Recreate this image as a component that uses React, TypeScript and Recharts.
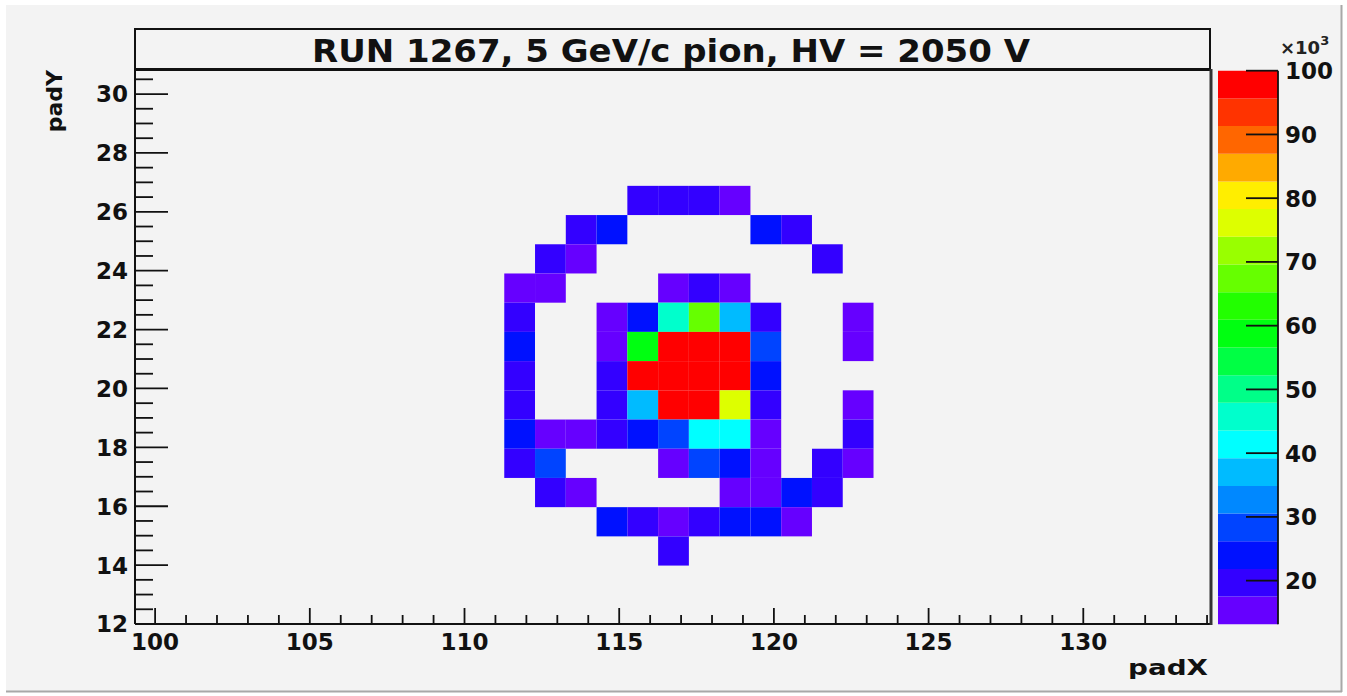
import { ScatterChart, Scatter, XAxis, YAxis, ReferenceArea, ComposedChart } from 'recharts';

// histogram binning (frame = histogram range)
const X_MIN = 99.35;
const X_MAX = 134.16;
const NBX = 35;
const Y_MIN = 12;
const Y_MAX = 30.85;
const NBY = 19;
const Z_MIN = 13.15;
const Z_MAX = 100;

// x bins that hold data (padX 111 .. 122), y bins from top row down
const colBins = [12, 13, 14, 15, 16, 17, 18, 19, 20, 21, 22, 23];
const rowBins = [14, 13, 12, 11, 10, 9, 8, 7, 6, 5, 4, 3, 2];

// counts in units of 10^3, 0 = empty bin
const r14 = [0, 0, 0, 0, 19.5, 19.8, 19.6, 15.6, 0, 0, 0, 0];
const r13 = [0, 0, 19.4, 24.1, 0, 0, 0, 0, 23.8, 19.9, 0, 0];
const r12 = [0, 19.7, 15.4, 0, 0, 0, 0, 0, 0, 0, 19.6, 0];
const r11 = [15.8, 15.5, 0, 0, 0, 15.9, 19.3, 15.7, 0, 0, 0, 0];
const r10 = [19.8, 0, 0, 15.6, 24.2, 45.6, 67.3, 37.2, 19.5, 0, 0, 15.4];
const r9 = [23.9, 0, 0, 15.7, 58.6, 100, 100, 100, 28.1, 0, 0, 15.5];
const r8 = [19.6, 0, 0, 19.4, 100, 100, 100, 100, 24.3, 0, 0, 0];
const r7 = [19.8, 0, 0, 19.5, 36.8, 100, 100, 76.2, 19.7, 0, 0, 15.6];
const r6 = [24.0, 15.8, 15.6, 19.5, 24.2, 28.4, 41.3, 41.0, 15.7, 0, 0, 19.4];
const r5 = [19.6, 28.2, 0, 0, 0, 15.7, 28.5, 24.1, 15.9, 0, 19.3, 15.5];
const r4 = [0, 19.5, 15.6, 0, 0, 0, 0, 15.8, 15.4, 24.0, 19.7, 0];
const r3 = [0, 0, 0, 24.2, 19.6, 15.7, 19.9, 24.4, 23.9, 15.6, 0, 0];
const r2 = [0, 0, 0, 0, 0, 19.5, 0, 0, 0, 0, 0, 0];
const rows = [r14, r13, r12, r11, r10, r9, r8, r7, r6, r5, r4, r3, r2];

// ROOT-like palette, 20 contours, low -> high
const palette = [
  '#6600ff', '#3300ff', '#0011ff', '#0044ff', '#0088ff', '#00bbff', '#00ffff', '#00ffcc', '#00ff88', '#00ff44',
  '#00ff11', '#22ff00', '#66ff00', '#99ff00', '#ddff00', '#ffee00', '#ffaa00', '#ff6600', '#ff3300', '#ff0000',
];

const xTicks = Array.from({ length: 35 }, (_, i) => 100 + i);
const yTicks = Array.from({ length: 38 }, (_, i) => 12 + i * 0.5);
const zTicks = [20, 30, 40, 50, 60, 70, 80, 90, 100];

const bwX = (X_MAX - X_MIN) / NBX;
const bwY = (Y_MAX - Y_MIN) / NBY;
const bwZ = (Z_MAX - Z_MIN) / palette.length;

const colorOf = (v: number) => {
  const k = Math.floor((v - Z_MIN) / bwZ);
  return palette[Math.max(0, Math.min(palette.length - 1, k))];
};

const cells = rows.flatMap((vals, r) =>
  vals
    .map((v, c) => ({
      x1: X_MIN + colBins[c] * bwX,
      x2: X_MIN + (colBins[c] + 1) * bwX,
      y1: Y_MIN + rowBins[r] * bwY,
      y2: Y_MIN + (rowBins[r] + 1) * bwY,
      x: X_MIN + (colBins[c] + 0.5) * bwX,
      y: Y_MIN + (rowBins[r] + 0.5) * bwY,
      v,
    }))
    .filter((d) => d.v > 0)
);

const bands = palette.map((color, i) => ({ lo: Z_MIN + i * bwZ, hi: Z_MIN + (i + 1) * bwZ, color }));

const lbl = { fontFamily: 'DejaVu Sans', fontWeight: 'bold' as const, fontSize: 23, fill: '#111' };

const XTick = (p: any) => {
  const v = p.payload.value;
  const major = v % 5 === 0;
  return (
    <g>
      <line x1={p.x} x2={p.x} y1={p.y} y2={p.y - (major ? 16 : 9)} stroke="#111" strokeWidth={1.8} />
      {major && (
        <text x={p.x} y={p.y + 26} textAnchor="middle" style={lbl}>
          {v}
        </text>
      )}
    </g>
  );
};

const YTick = (p: any) => {
  const v = p.payload.value;
  const major = v % 2 === 0;
  return (
    <g>
      <line x1={p.x} x2={p.x + (major ? 33 : 18)} y1={p.y} y2={p.y} stroke="#111" strokeWidth={1.8} />
      {major && (
        <text x={p.x - 7} y={p.y + 8.4} textAnchor="end" style={lbl}>
          {v}
        </text>
      )}
    </g>
  );
};

const ZTick = (p: any) => {
  const v = p.payload.value;
  return (
    <g>
      <line x1={p.x - 32} x2={p.x} y1={p.y} y2={p.y} stroke="#111" strokeWidth={1.8} />
      <text x={p.x + 7} y={p.y + 8.4} textAnchor="start" style={lbl}>
        {v}
      </text>
    </g>
  );
};

export default function App() {
  return (
    <div style={{ position: 'absolute', left: 0, top: 0, width: 1347, height: 696, background: '#fff' }}>
      <svg width={1347} height={696} style={{ position: 'absolute', left: 0, top: 0 }}>
        <rect x={6} y={5} width={1335} height={686} fill="#f3f3f3" />
        <line x1={1341.5} x2={1341.5} y1={5} y2={692} stroke="#a8a8a8" strokeWidth={2} />
        <line x1={6} x2={1342} y1={691.5} y2={691.5} stroke="#a8a8a8" strokeWidth={2} />
      </svg>

      <div style={{ position: 'absolute', left: 0, top: 0 }}>
        <ScatterChart width={1347} height={696} margin={{ top: 69, right: 135, bottom: 32, left: 75 }}>
          <XAxis
            type="number"
            dataKey="x"
            domain={[X_MIN, X_MAX]}
            ticks={xTicks}
            interval={0}
            height={40}
            tickSize={0}
            tickMargin={0}
            tickLine={false}
            tick={XTick}
            axisLine={{ stroke: '#111', strokeWidth: 2 }}
            allowDataOverflow
          />
          <YAxis
            type="number"
            dataKey="y"
            domain={[Y_MIN, Y_MAX]}
            ticks={yTicks}
            interval={0}
            width={60}
            tickSize={0}
            tickMargin={0}
            tickLine={false}
            tick={YTick}
            axisLine={{ stroke: '#111', strokeWidth: 2 }}
            allowDataOverflow
          />
          {cells.map((c, i) => (
            <ReferenceArea
              key={i}
              x1={c.x1}
              x2={c.x2}
              y1={c.y1}
              y2={c.y2}
              fill={colorOf(c.v)}
              fillOpacity={1}
              stroke="none"
            />
          ))}
          <Scatter data={cells} isAnimationActive={false} shape={() => <g />} />
        </ScatterChart>
      </div>

      <div style={{ position: 'absolute', left: 1218, top: 0 }}>
        <ComposedChart width={129} height={696} data={bands} margin={{ top: 70.7, right: 0, bottom: 71.7, left: 0 }}>
          <XAxis type="number" dataKey="lo" domain={[0, 1]} allowDataOverflow hide />
          <YAxis
            orientation="right"
            type="number"
            domain={[Z_MIN, Z_MAX]}
            ticks={zTicks}
            interval={0}
            width={69}
            tickSize={0}
            tickMargin={0}
            tickLine={false}
            tick={ZTick}
            axisLine={{ stroke: '#111', strokeWidth: 1.8 }}
            allowDataOverflow
          />
          {bands.map((b, i) => (
            <ReferenceArea key={i} x1={0} x2={1} y1={b.lo} y2={b.hi} fill={b.color} fillOpacity={1} stroke="none" />
          ))}
        </ComposedChart>
      </div>

      <svg width={1347} height={696} style={{ position: 'absolute', left: 0, top: 0, pointerEvents: 'none' }}>
        <rect x={135} y={29} width={1075} height={41} fill="#f3f3f3" stroke="#111" strokeWidth={2} />
        <line x1={135} x2={1211} y1={69.5} y2={69.5} stroke="#111" strokeWidth={3} />
        <line x1={1211} x2={1211} y1={69} y2={625} stroke="#333" strokeWidth={3} />
        <text
          x={671}
          y={62}
          textAnchor="middle"
          textLength={718}
          lengthAdjust="spacingAndGlyphs"
          style={{ ...lbl, fontSize: 32 }}
        >
          RUN 1267, 5 GeV/c pion, HV = 2050 V
        </text>
        <text x={61.7} y={70} textAnchor="end" transform="rotate(-90 61.7 70)" style={{ ...lbl, fontSize: 22 }}>
          padY
        </text>
        <text x={1208} y={675} textAnchor="end" textLength={80} lengthAdjust="spacingAndGlyphs" style={{ ...lbl, fontSize: 22 }}>
          padX
        </text>
        <text x={1280} y={54} style={{ ...lbl, fontSize: 18, fill: '#222' }}>
          ×10
          <tspan dy={-9} fontSize={13}>
            3
          </tspan>
        </text>
      </svg>
    </div>
  );
}
